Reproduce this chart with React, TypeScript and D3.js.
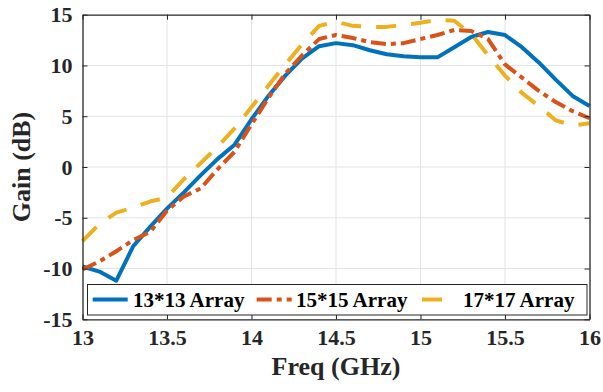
import { useEffect, useRef } from "react";
import * as d3 from "d3";

// frequency samples (GHz)
const freq = [
  13.0, 13.1, 13.2, 13.3, 13.4, 13.5, 13.6, 13.7, 13.8, 13.9, 14.0, 14.1, 14.2, 14.3, 14.4, 14.5,
  14.6, 14.7, 14.8, 14.9, 15.0, 15.1, 15.2, 15.3, 15.4, 15.5, 15.6, 15.7, 15.8, 15.9, 16.0,
];

const gain13 = [
  -9.8, -10.3, -11.2, -7.8, -5.9, -4.1, -2.5, -0.8, 0.8, 2.2, 4.7, 7.0, 9.0, 10.7, 11.9, 12.2,
  12.0, 11.5, 11.1, 10.9, 10.8, 10.8, 11.8, 12.8, 13.3, 13.0, 11.8, 10.3, 8.6, 7.0, 6.0,
];

const gain15 = [
  -10.1, -9.3, -8.3, -7.2, -6.4, -4.3, -2.9, -2.1, -0.2, 1.5, 4.2, 6.8, 9.2, 11.0, 12.6, 13.0,
  12.7, 12.3, 12.1, 12.2, 12.6, 13.0, 13.5, 13.4, 12.6, 10.1, 8.8, 7.5, 6.4, 5.5, 4.8,
];

const gain17 = [
  -7.3, -5.6, -4.5, -4.0, -3.4, -3.0, -1.2, 0.4, 2.0, 3.8, 5.9, 8.0, 10.1, 12.1, 13.9, 14.3,
  13.9, 13.8, 13.8, 14.0, 14.2, 14.5, 14.4, 13.1, 11.0, 9.0, 7.3, 6.0, 4.6, 4.1, 4.3,
];

const seriesNames = ["13*13 Array", "15*15 Array", "17*17 Array"];
const xTicks = [13, 13.5, 14, 14.5, 15, 15.5, 16];
const yTicks = [-15, -10, -5, 0, 5, 10, 15];

const colors = ["#0072BD", "#D95319", "#EDB120"];
const dashes = ["none", "15,5,5,5", "20,15"];
const fontFam = "Liberation Serif, Times New Roman, Times, serif";

const W = 603;
const H = 392;
const margin = { top: 14.7, right: 13.5, bottom: 72.7, left: 82.5 };

export default function App() {
  const ref = useRef<SVGSVGElement | null>(null);

  useEffect(() => {
    if (!ref.current) return;
    const svg = d3.select(ref.current);
    svg.selectAll("*").remove();

    const iw = W - margin.left - margin.right;
    const ih = H - margin.top - margin.bottom;

    const x = d3.scaleLinear().domain([13, 16]).range([0, iw]);
    const y = d3.scaleLinear().domain([-15, 15]).range([ih, 0]);

    const g = svg.append("g").attr("transform", `translate(${margin.left},${margin.top})`);

    // grid
    g.append("g")
      .selectAll("line.gx")
      .data(xTicks.slice(1, -1))
      .enter()
      .append("line")
      .attr("x1", (d) => x(d))
      .attr("x2", (d) => x(d))
      .attr("y1", 0)
      .attr("y2", ih)
      .attr("stroke", "#e3e3e3")
      .attr("stroke-width", 1);

    g.append("g")
      .selectAll("line.gy")
      .data(yTicks.slice(1, -1))
      .enter()
      .append("line")
      .attr("x1", 0)
      .attr("x2", iw)
      .attr("y1", (d) => y(d))
      .attr("y2", (d) => y(d))
      .attr("stroke", "#e3e3e3")
      .attr("stroke-width", 1);

    // curves
    const data = [gain13, gain15, gain17];
    const line = d3
      .line<number>()
      .x((_, i) => x(freq[i]))
      .y((d) => y(d));

    data.forEach((vals, k) => {
      g.append("path")
        .datum(vals)
        .attr("d", line)
        .attr("fill", "none")
        .attr("stroke", colors[k])
        .attr("stroke-width", 4)
        .attr("stroke-dasharray", dashes[k])
        .attr("stroke-linejoin", "round");
    });

    // axes (box with inward ticks)
    const tickLen = 5;
    const axisColor = "#262626";

    const axB = g.append("g").attr("transform", `translate(0,${ih})`)
      .call(d3.axisBottom(x).tickValues(xTicks).tickSizeInner(-tickLen).tickSizeOuter(0).tickPadding(9).tickFormat((d) => String(d)));
    const axT = g.append("g")
      .call(d3.axisTop(x).tickValues(xTicks).tickSizeInner(-tickLen).tickSizeOuter(0).tickFormat(() => ""));
    const axL = g.append("g")
      .call(d3.axisLeft(y).tickValues(yTicks).tickSizeInner(-tickLen).tickSizeOuter(0).tickPadding(10).tickFormat((d) => String(d)));
    const axR = g.append("g").attr("transform", `translate(${iw},0)`)
      .call(d3.axisRight(y).tickValues(yTicks).tickSizeInner(-tickLen).tickSizeOuter(0).tickFormat(() => ""));

    [axB, axT, axL, axR].forEach((a) => {
      a.attr("font-family", null).attr("font-size", null);
      a.select(".domain").attr("stroke", axisColor).attr("stroke-width", 1.3);
      a.selectAll(".tick line").attr("stroke", axisColor).attr("stroke-width", 1);
      a.selectAll("text")
        .attr("fill", "#262626")
        .style("font-family", fontFam)
        .style("font-weight", "bold")
        .style("font-size", "22px");
    });
    axB.selectAll("text").attr("dy", "0.75em");

    // axis titles
    g.append("text")
      .attr("x", iw / 2)
      .attr("y", ih + 56)
      .attr("text-anchor", "middle")
      .style("font-family", fontFam)
      .style("font-weight", "bold")
      .style("font-size", "26px")
      .attr("fill", "#262626")
      .text("Freq (GHz)");

    g.append("text")
      .attr("transform", `translate(${-margin.left + 30},${y(0)}) rotate(-90)`)
      .attr("text-anchor", "middle")
      .style("font-family", fontFam)
      .style("font-weight", "bold")
      .style("font-size", "26px")
      .attr("fill", "#262626")
      .text("Gain (dB)");

    // legend
    const lg = svg.append("g");
    lg.append("rect")
      .attr("x", 87.5)
      .attr("y", 284.5)
      .attr("width", 499.5)
      .attr("height", 30.5)
      .attr("fill", "#fff")
      .attr("stroke", "#262626")
      .attr("stroke-width", 1);

    const sampleX = [92.7, 256.7, 422];
    const textX = [133, 296, 463];
    seriesNames.forEach((name, k) => {
      lg.append("line")
        .attr("x1", sampleX[k])
        .attr("x2", sampleX[k] + 35)
        .attr("y1", 299.5)
        .attr("y2", 299.5)
        .attr("stroke", colors[k])
        .attr("stroke-width", 4)
        .attr("stroke-dasharray", dashes[k]);
      lg.append("text")
        .attr("x", textX[k])
        .attr("y", 306.5)
        .style("font-family", fontFam)
        .style("font-weight", "bold")
        .style("font-size", "21px")
        .attr("fill", "#000")
        .text(name);
    });
  }, []);

  return (
    <svg
      ref={ref}
      width={W}
      height={H}
      style={{ position: "absolute", left: 0, top: 0, background: "#fff" }}
    />
  );
}
